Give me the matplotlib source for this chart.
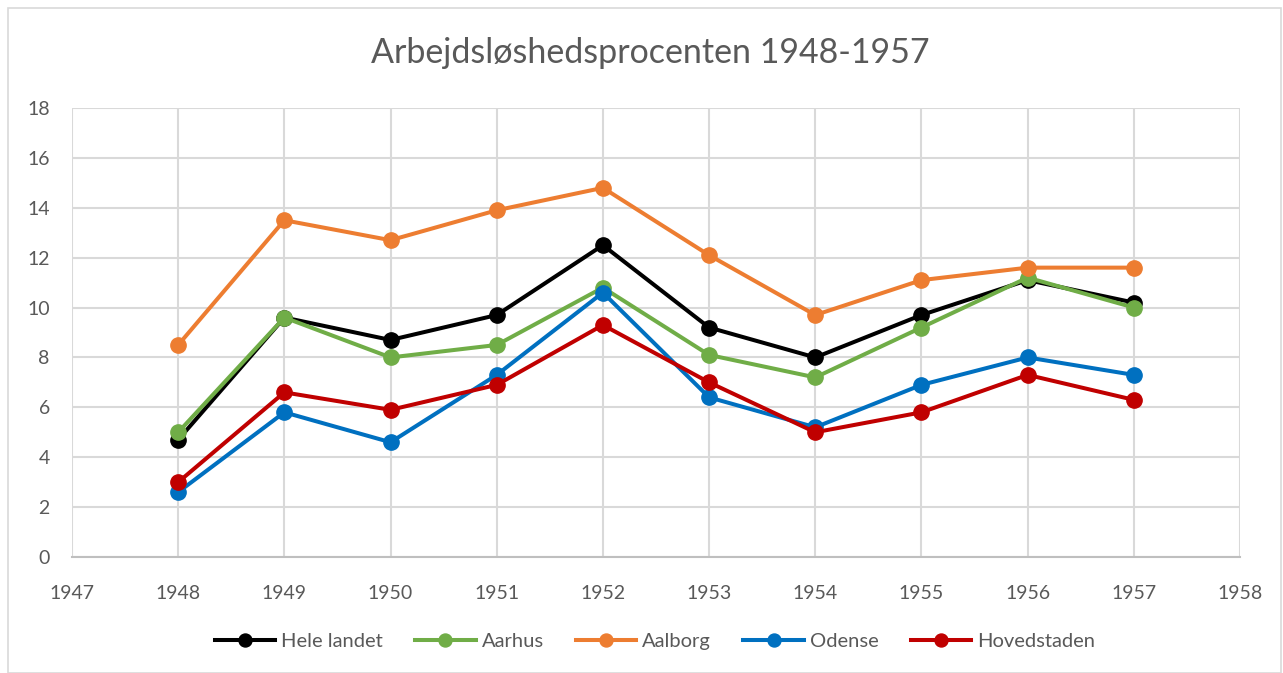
import matplotlib
matplotlib.use("Agg")
import matplotlib.pyplot as plt
from matplotlib.patches import Rectangle

# Data
years = [1948, 1949, 1950, 1951, 1952, 1953, 1954, 1955, 1956, 1957]
hele_landet = [4.7, 9.6, 8.7, 9.7, 12.5, 9.2, 8.0, 9.7, 11.1, 10.2]
aarhus = [5.0, 9.6, 8.0, 8.5, 10.8, 8.1, 7.2, 9.2, 11.2, 10.0]
aalborg = [8.5, 13.5, 12.7, 13.9, 14.8, 12.1, 9.7, 11.1, 11.6, 11.6]
odense = [2.6, 5.8, 4.6, 7.3, 10.6, 6.4, 5.2, 6.9, 8.0, 7.3]
hovedstaden = [3.0, 6.6, 5.9, 6.9, 9.3, 7.0, 5.0, 5.8, 7.3, 6.3]

series = [
    ("Hele landet", hele_landet, "#000000"),
    ("Aarhus", aarhus, "#70ad47"),
    ("Aalborg", aalborg, "#ed7d31"),
    ("Odense", odense, "#0070c0"),
    ("Hovedstaden", hovedstaden, "#c00000"),
]

plt.rcParams['font.family'] = ['Lato', 'DejaVu Sans']
text_color = '#595959'

fig = plt.figure(figsize=(12.83, 6.73), dpi=100)
ax = fig.add_axes([72 / 1283, 1 - 557 / 673, (1240 - 72) / 1283, (557 - 108) / 673])

# light border around the chart
fig.patches.append(Rectangle((8 / 1283, 0), 1 - 10 / 1283, 1 - 8 / 673,
                             transform=fig.transFigure, fill=False,
                             edgecolor='#d9d9d9', linewidth=1.2))

for label, vals, col in series:
    ax.plot(years, vals, color=col, linewidth=2.9, marker='o',
            markersize=11, label=label, solid_joinstyle='round', zorder=3)

ax.set_xlim(1947, 1958)
ax.set_ylim(0, 18)
ax.set_xticks(range(1947, 1959))
ax.set_yticks(range(0, 19, 2))
ax.grid(True, color='#d9d9d9', linewidth=1.5)
ax.set_axisbelow(True)
for side in ['top', 'right', 'left']:
    ax.spines[side].set_visible(False)
ax.spines['bottom'].set_color('#bfbfbf')
ax.spines['bottom'].set_linewidth(1.5)
ax.tick_params(length=0, labelsize=14, colors=text_color)
ax.tick_params(axis='x', pad=20)
ax.tick_params(axis='y', pad=16)

fig.text(650 / 1283, 1 - 53 / 673, 'Arbejdsløshedsprocenten 1948-1957',
         ha='center', va='center', fontsize=24.5, color=text_color)

fig.legend(loc='center', bbox_to_anchor=(655 / 1283, 1 - 641 / 673),
           ncol=5, frameon=False, fontsize=14.5, labelcolor=text_color,
           handlelength=3.0, columnspacing=1.6, handletextpad=0.3,
           markerscale=0.85)

plt.savefig('out.png', dpi=100)
